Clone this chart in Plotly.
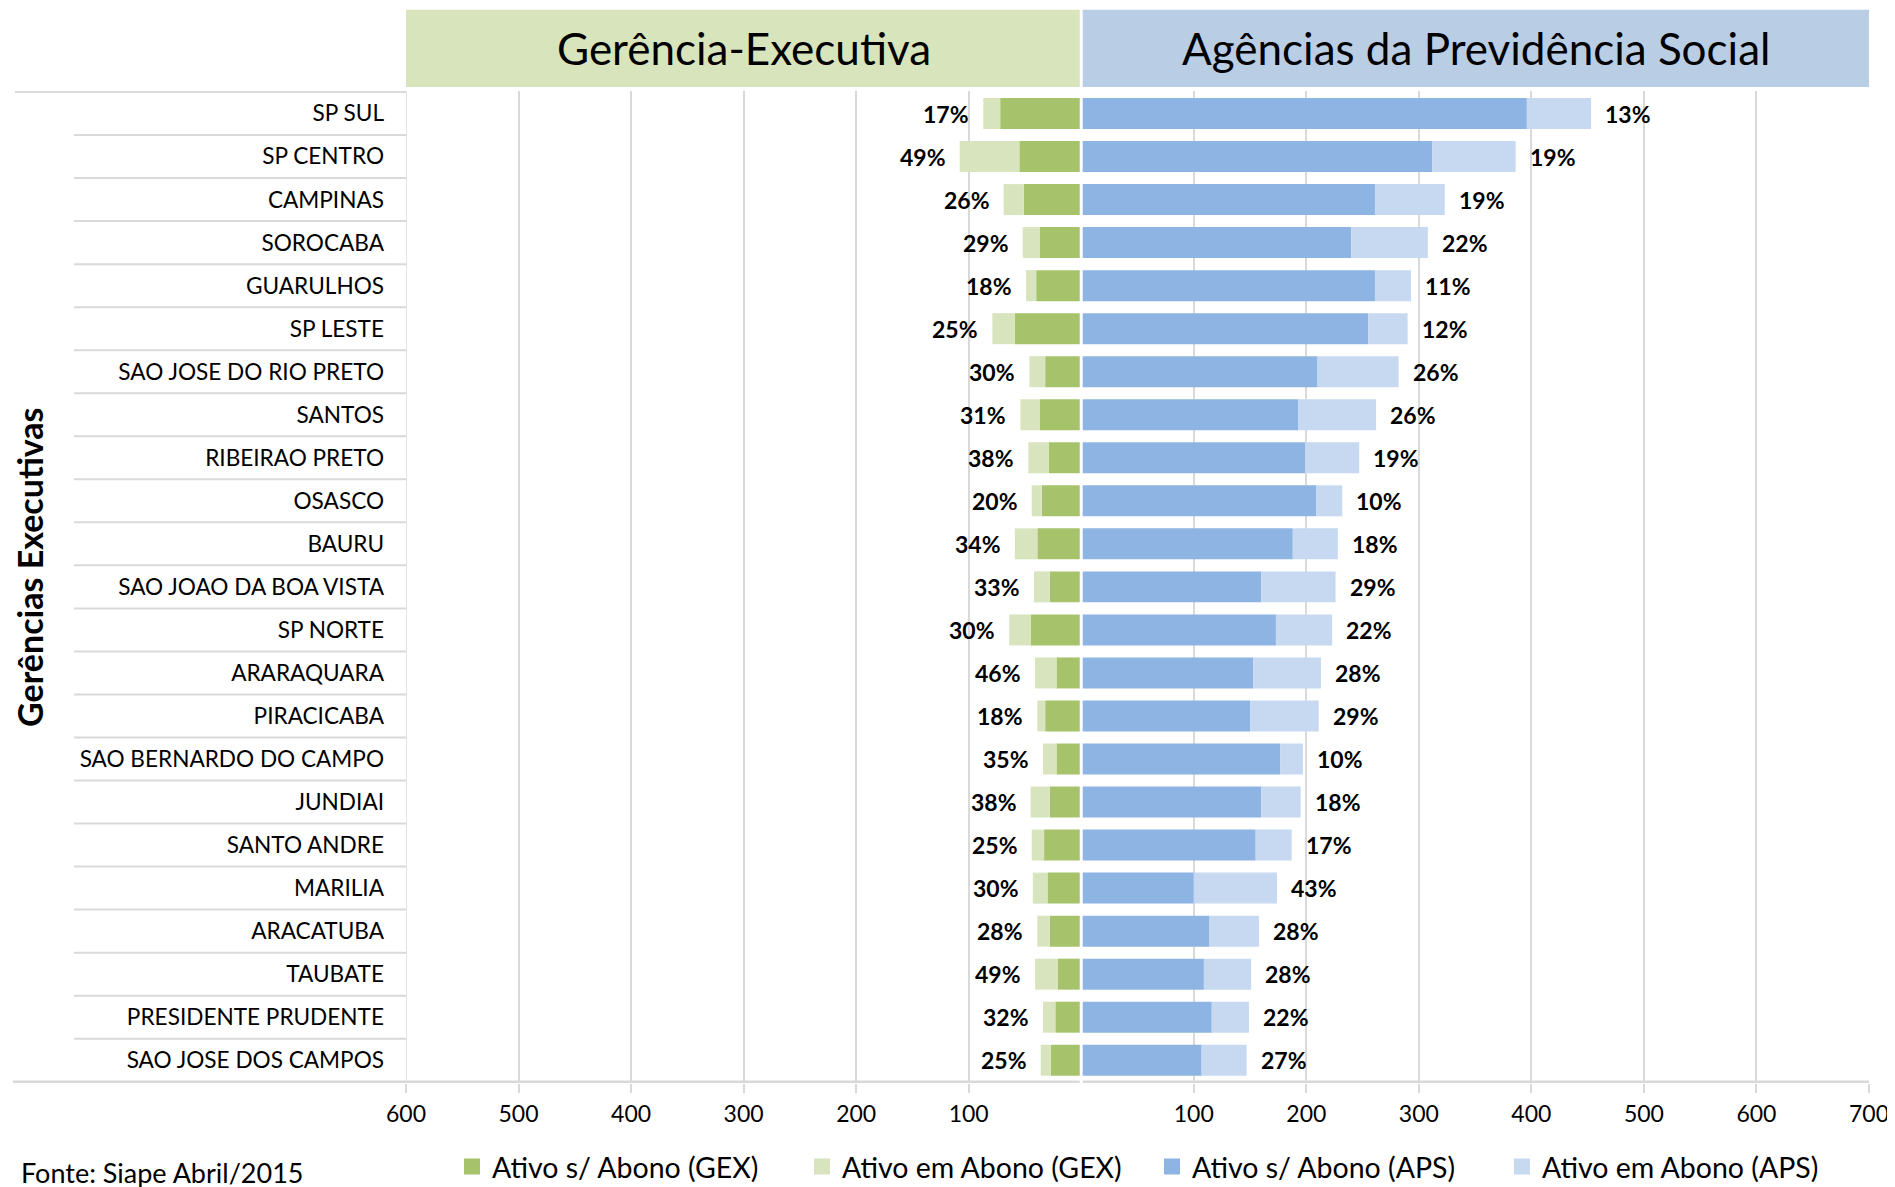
import plotly.graph_objects as go

# ── Data ─────────────────────────────────────────────────────────────────────
gerencias = ["SP SUL", "SP CENTRO", "CAMPINAS", "SOROCABA", "GUARULHOS", "SP LESTE",
             "SAO JOSE DO RIO PRETO", "SANTOS", "RIBEIRAO PRETO", "OSASCO", "BAURU",
             "SAO JOAO DA BOA VISTA", "SP NORTE", "ARARAQUARA", "PIRACICABA",
             "SAO BERNARDO DO CAMPO", "JUNDIAI", "SANTO ANDRE", "MARILIA", "ARACATUBA",
             "TAUBATE", "PRESIDENTE PRUDENTE", "SAO JOSE DOS CAMPOS"]

gex_sem_abono = [72, 55, 51, 37, 40, 59, 32, 37, 29, 35, 39, 28, 45, 22, 32, 22, 28, 33, 30, 28, 21, 23, 27]
gex_em_abono  = [15, 53, 18, 15,  9, 20, 14, 17, 18,  9, 20, 14, 19, 19,  7, 12, 17, 11, 13, 11, 20, 11,  9]
aps_sem_abono = [396, 312, 261, 240, 261, 255, 210, 193, 199, 209, 188, 160, 173, 153, 150, 177,
                 160, 155, 100, 114, 109, 116, 107]
aps_em_abono  = [57, 74, 62, 68, 32, 35, 72, 69, 48, 23, 40, 66, 50, 60, 61, 20, 35, 32, 74, 44, 42, 33, 40]

gex_pct = ["17%", "49%", "26%", "29%", "18%", "25%", "30%", "31%", "38%", "20%", "34%", "33%",
           "30%", "46%", "18%", "35%", "38%", "25%", "30%", "28%", "49%", "32%", "25%"]
aps_pct = ["13%", "19%", "19%", "22%", "11%", "12%", "26%", "26%", "19%", "10%", "18%", "29%",
           "22%", "28%", "29%", "10%", "18%", "17%", "43%", "28%", "28%", "22%", "27%"]

tick_vals = [-600, -500, -400, -300, -200, -100, 100, 200, 300, 400, 500, 600, 700]
tick_text = ["600", "500", "400", "300", "200", "100", "100", "200", "300", "400", "500", "600", "700"]

series_names = ["Ativo s/ Abono (GEX)", "Ativo em Abono (GEX)", "Ativo s/ Abono (APS)", "Ativo em Abono (APS)"]

# ── Style ────────────────────────────────────────────────────────────────────
GREEN_D = "#A6C36B"
GREEN_L = "#D8E4BD"
BLUE_D = "#8EB4E3"
BLUE_L = "#C6D9F1"
HEAD_G = "#D8E4BC"
HEAD_B = "#B9CDE5"
GRID = "#D9D9D9"
FONT = "Lato"
colors = [GREEN_D, GREEN_L, BLUE_D, BLUE_L]

fig = go.Figure()

# left side drawn as negative values so it grows outward from zero
series = [[-v for v in gex_sem_abono], [-v for v in gex_em_abono], aps_sem_abono, aps_em_abono]
for name, vals, col in zip(series_names, series, colors):
    fig.add_trace(go.Bar(
        y=gerencias, x=vals, orientation="h", name=name,
        marker=dict(color=col, line=dict(width=0)),
        showlegend=False,
        customdata=[abs(v) for v in vals],
        hovertemplate="%{y}<br>" + name + ": %{customdata}<extra></extra>",
    ))

# legend entries with bigger square keys
for name, col in zip(series_names, colors):
    fig.add_trace(go.Scatter(
        x=[None], y=[None], mode="markers", name=name,
        marker=dict(symbol="square", size=22, color=col),
    ))

# ── Percentage labels ────────────────────────────────────────────────────────
annotations = []
for i, cat in enumerate(gerencias):
    annotations.append(dict(
        x=-(gex_sem_abono[i] + gex_em_abono[i]), y=cat, xref="x", yref="y",
        text=f"<b>{gex_pct[i]}</b>", showarrow=False, xanchor="right", xshift=-12,
        font=dict(family=FONT, size=23, color="black"),
    ))
    annotations.append(dict(
        x=aps_sem_abono[i] + aps_em_abono[i], y=cat, xref="x", yref="y",
        text=f"<b>{aps_pct[i]}</b>", showarrow=False, xanchor="left", xshift=12,
        font=dict(family=FONT, size=23, color="black"),
    ))

# header titles
annotations.append(dict(
    x=-300, y=1.043, xref="x", yref="paper", text="Gerência-Executiva",
    showarrow=False, xanchor="center", yanchor="middle",
    font=dict(family=FONT, size=44, color="black"),
))
annotations.append(dict(
    x=351, y=1.043, xref="x", yref="paper", text="Agências da Previdência Social",
    showarrow=False, xanchor="center", yanchor="middle",
    font=dict(family=FONT, size=44, color="black"),
))
# y-axis title
annotations.append(dict(
    x=-0.2578, y=0.52, xref="paper", yref="paper", text="<b>Gerências Executivas</b>",
    textangle=-90, showarrow=False, xanchor="center", yanchor="middle",
    font=dict(family=FONT, size=34, color="black"),
))
# source note
annotations.append(dict(
    x=-0.2645, y=-0.0716, xref="paper", yref="paper", text="Fonte: Siape Abril/2015",
    showarrow=False, xanchor="left", yanchor="top",
    font=dict(family=FONT, size=27, color="black"),
))

# ── Shapes: header bands, row separators, frame lines ───────────────────────
shapes = [
    dict(type="rect", xref="x", yref="paper", x0=-600, x1=0, y0=1.004, y1=1.082,
         fillcolor=HEAD_G, line=dict(width=0), layer="below"),
    dict(type="rect", xref="x", yref="paper", x0=0, x1=703, y0=1.004, y1=1.082,
         fillcolor=HEAD_B, line=dict(width=0), layer="below"),
    dict(type="line", xref="paper", yref="y", x0=-0.2673, x1=0, y0=-0.5, y1=-0.5,
         line=dict(color=GRID, width=2)),
    dict(type="line", xref="paper", yref="y", x0=-0.2687, x1=1, y0=len(gerencias) - 0.5,
         y1=len(gerencias) - 0.5, line=dict(color=GRID, width=2.5)),
    dict(type="line", xref="x", yref="paper", x0=-600, x1=-600, y0=0, y1=1,
         line=dict(color=GRID, width=1.5)),
    # thin white gap at zero between the two halves
    dict(type="line", xref="x", yref="paper", x0=0, x1=0, y0=0, y1=1.09,
         line=dict(color="white", width=3), layer="above"),
]
for i in range(len(gerencias) - 1):
    shapes.append(dict(type="line", xref="paper", yref="y", x0=-0.2269, x1=0,
                       y0=i + 0.5, y1=i + 0.5, line=dict(color=GRID, width=2)))

# ── Layout ───────────────────────────────────────────────────────────────────
fig.update_layout(
    width=1895, height=1187,
    paper_bgcolor="white", plot_bgcolor="white",
    barmode="relative", bargap=0.28,
    margin=dict(l=398, r=34, t=83, b=112, autoexpand=False),
    font=dict(family=FONT, color="black"),
    xaxis=dict(
        range=[-600, 700], tickvals=tick_vals, ticktext=tick_text,
        showgrid=True, gridcolor=GRID, gridwidth=1.5, zeroline=False,
        ticks="outside", ticklen=9, tickcolor=GRID, tickwidth=1.5,
        ticklabelstandoff=1, tickfont=dict(family=FONT, size=23, color="black"),
        showline=False, fixedrange=True, automargin=False,
    ),
    yaxis=dict(
        categoryorder="array", categoryarray=gerencias, autorange="reversed",
        showgrid=False, zeroline=False, ticks="", ticklabelstandoff=21,
        tickfont=dict(family=FONT, size=22.6, color="black"),
        showline=False, fixedrange=True, automargin=False,
    ),
    legend=dict(
        orientation="h", xref="container", yref="container",
        x=0.2343, xanchor="left", y=0.0236, yanchor="middle",
        font=dict(family=FONT, size=28.5, color="black"),
        entrywidth=305, entrywidthmode="pixels",
        bgcolor="rgba(0,0,0,0)",
    ),
    annotations=annotations,
    shapes=shapes,
)

fig.write_html("out.html")
